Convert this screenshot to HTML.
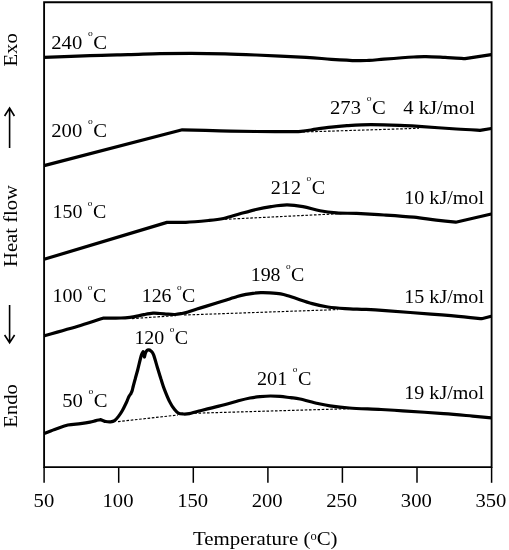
<!DOCTYPE html>
<html><head><meta charset="utf-8"><title>DSC</title>
<style>
html,body{margin:0;padding:0;background:#fff;}
svg{display:block;}
text{font-family:"Liberation Serif",serif;fill:#000;}
</style></head><body>
<svg width="509" height="550" viewBox="0 0 509 550">
<rect x="0" y="0" width="509" height="550" fill="#fff"/>
<g fill="none" stroke="#000" stroke-width="1.85">
<path d="M44.1,467.1 L44.1,2.2 L491.6,2.2 L491.6,467.1 Z"/>
<line x1="44.1" y1="467.1" x2="44.1" y2="482.8" stroke-width="1.5"/>
<line x1="118.7" y1="467.1" x2="118.7" y2="482.8" stroke-width="1.5"/>
<line x1="193.3" y1="467.1" x2="193.3" y2="482.8" stroke-width="1.5"/>
<line x1="267.9" y1="467.1" x2="267.9" y2="482.8" stroke-width="1.5"/>
<line x1="342.4" y1="467.1" x2="342.4" y2="482.8" stroke-width="1.5"/>
<line x1="417.0" y1="467.1" x2="417.0" y2="482.8" stroke-width="1.5"/>
<line x1="491.6" y1="467.1" x2="491.6" y2="482.8" stroke-width="1.5"/>
</g>
<g fill="none" stroke="#000" stroke-width="3.2" stroke-linejoin="round" stroke-linecap="butt">
<path d="M44.1,57.4 C51.8,57.1 76.0,56.1 90.0,55.6 C104.0,55.1 116.3,54.9 128.0,54.6 C139.7,54.3 149.5,53.8 160.0,53.6 C170.5,53.4 180.2,53.3 191.0,53.3 C201.8,53.3 214.2,53.5 225.0,53.8 C235.8,54.1 242.5,54.4 256.0,55.0 C269.5,55.6 293.4,56.6 306.0,57.3 C318.6,58.0 323.0,58.8 331.4,59.3 C339.8,59.8 350.3,60.4 356.6,60.6 C362.9,60.8 364.4,60.6 369.0,60.4 C373.6,60.2 376.6,59.8 384.0,59.2 C391.4,58.6 406.7,57.4 413.7,57.0 C420.7,56.6 420.8,56.5 426.0,56.6 C431.2,56.7 438.5,57.1 445.0,57.4 C451.5,57.7 461.7,58.4 465.0,58.6 L491.3,54.6"/>
<path d="M44.1,165.6 L182.3,129.8 C188.6,130.0 207.7,130.5 220.0,130.8 C232.3,131.1 246.0,131.4 256.0,131.5 C266.0,131.6 272.5,131.6 280.0,131.6 C287.5,131.6 295.0,131.7 301.0,131.3 C307.0,130.9 310.9,129.9 316.0,129.2 C321.1,128.5 326.2,127.8 331.4,127.2 C336.6,126.6 342.0,126.1 347.0,125.7 C352.0,125.3 355.4,125.0 361.6,124.8 C367.8,124.6 377.6,124.7 384.0,124.8 C390.4,124.9 394.2,125.1 400.0,125.4 C405.8,125.7 409.3,125.8 418.7,126.4 C428.1,127.0 446.2,128.3 456.4,129.0 C466.6,129.7 476.1,130.1 480.0,130.3 L491.3,128.5"/>
<path d="M44.1,259.3 L167,222.4 C170.1,222.4 178.9,222.6 185.8,222.3 C192.7,222.0 202.2,221.1 208.5,220.5 C214.8,219.9 218.2,219.6 223.5,218.5 C228.8,217.4 234.6,215.3 240.0,213.8 C245.4,212.3 250.8,210.7 256.0,209.5 C261.2,208.3 265.8,207.4 271.0,206.6 C276.2,205.8 281.7,204.9 287.0,204.9 C292.3,204.9 297.5,205.6 303.0,206.6 C308.5,207.6 314.4,209.6 320.0,210.7 C325.6,211.8 330.4,212.4 336.5,212.9 C342.6,213.4 348.7,213.1 356.6,213.4 C364.5,213.8 374.5,214.4 384.0,215.0 C393.5,215.6 405.0,216.3 413.7,217.2 C422.4,218.1 429.3,219.4 436.3,220.2 C443.3,221.0 452.5,221.9 455.7,222.2 L491.3,214"/>
<path d="M44.1,335.8 C50.2,334.1 70.7,328.4 80.5,325.5 C90.3,322.6 99.2,319.4 103.0,318.2 C104.5,318.2 109.0,318.2 112.0,318.2 C115.0,318.2 118.0,318.1 121.0,318.0 C124.0,317.9 127.3,317.6 130.0,317.3 C132.7,317.0 134.7,316.6 137.0,316.1 C139.3,315.7 141.3,315.1 144.0,314.6 C146.7,314.1 150.3,313.4 153.0,313.2 C155.7,313.0 157.7,313.4 160.0,313.5 C162.3,313.6 164.5,313.9 167.0,314.1 C169.5,314.3 172.5,314.6 175.0,314.5 C177.5,314.4 179.8,313.9 182.0,313.5 C184.2,313.1 185.5,312.8 188.0,312.0 C190.5,311.2 194.1,309.9 197.0,309.0 C199.9,308.1 201.6,307.6 205.7,306.4 C209.8,305.1 216.2,303.1 221.4,301.5 C226.7,299.9 233.1,297.7 237.2,296.5 C241.3,295.3 243.4,294.9 246.0,294.4 C248.6,293.9 250.4,293.6 252.9,293.3 C255.4,293.0 257.9,292.8 260.8,292.7 C263.7,292.6 266.7,292.7 270.0,292.9 C273.3,293.1 277.7,293.4 280.7,293.9 C283.7,294.4 285.4,295.0 288.0,295.8 C290.6,296.6 292.4,297.3 296.4,298.6 C300.4,299.9 306.9,302.2 312.2,303.6 C317.4,305.0 322.4,306.2 327.9,307.0 C333.4,307.8 338.8,308.2 345.0,308.6 C351.2,309.0 358.3,309.1 365.0,309.4 C371.7,309.7 374.4,309.8 385.4,310.6 C396.4,311.4 417.9,313.1 431.0,314.1 C444.1,315.1 455.6,316.0 464.0,316.8 C472.4,317.6 478.7,318.4 481.6,318.7 L491.3,316.2"/>
<path d="M44.1,433.4 C46.1,432.7 52.0,430.4 56.0,429.0 C60.0,427.6 63.8,425.9 67.9,425.0 C72.0,424.1 76.8,424.1 80.5,423.6 C84.2,423.1 87.4,422.6 90.0,422.1 C92.6,421.6 94.1,421.0 95.9,420.6 C97.7,420.2 100.0,419.8 100.8,419.6 C101.2,419.8 102.5,420.4 103.3,420.7 C104.1,421.0 104.5,421.3 105.7,421.5 C106.9,421.7 109.1,421.9 110.6,421.8 C112.1,421.7 113.3,421.5 114.6,420.6 C115.9,419.7 117.2,418.1 118.5,416.4 C119.8,414.7 121.1,412.8 122.4,410.5 C123.7,408.2 125.2,405.0 126.3,402.7 C127.4,400.4 128.0,398.3 128.8,396.8 C129.6,395.3 130.6,394.1 131.0,393.5 C131.2,393.0 131.8,391.8 132.2,390.5 C132.6,389.2 132.8,387.9 133.3,386.0 C133.8,384.1 134.4,381.8 135.2,379.0 C135.9,376.2 136.8,373.4 137.8,369.5 C138.8,365.6 140.3,358.7 141.2,355.7 C142.1,352.7 142.9,352.3 143.2,351.6 L144.4,357 C144.6,356.3 145.1,354.1 145.5,353.0 C145.9,351.9 146.3,351.2 146.8,350.7 C147.3,350.2 147.9,349.9 148.6,349.9 C149.3,349.9 150.0,350.1 150.8,350.9 C151.6,351.7 152.4,351.9 153.5,354.7 C154.6,357.5 156.2,363.5 157.4,367.5 C158.6,371.5 159.7,374.9 160.8,378.5 C162.0,382.1 162.8,385.2 164.3,389.1 C165.8,393.0 167.9,398.2 169.6,401.6 C171.3,405.0 173.1,407.7 174.6,409.6 C176.1,411.5 177.0,412.5 178.5,413.2 C180.0,413.9 181.6,413.9 183.4,414.0 C185.2,414.1 186.7,414.1 189.3,413.6 C191.9,413.1 194.1,412.2 199.0,411.0 C203.9,409.8 212.2,407.8 218.8,406.1 C225.4,404.4 233.2,402.2 238.4,400.8 C243.6,399.4 246.4,398.7 250.0,398.0 C253.6,397.3 256.6,396.9 260.0,396.6 C263.4,396.3 267.2,396.0 270.5,396.0 C273.8,396.0 276.6,396.1 280.0,396.4 C283.4,396.7 287.3,397.3 290.6,397.7 C293.9,398.1 295.4,398.0 300.0,399.0 C304.6,400.0 313.0,402.4 318.0,403.5 C323.0,404.6 324.8,405.1 330.0,405.8 C335.2,406.6 340.8,407.4 349.3,408.0 C357.8,408.6 372.1,409.0 381.0,409.5 C389.9,410.0 392.2,410.1 402.7,410.8 C413.1,411.5 432.1,412.7 443.7,413.6 C455.3,414.5 464.6,415.4 472.5,416.1 C480.4,416.8 488.2,417.6 491.3,417.9"/>
</g>
<g fill="none" stroke="#000" stroke-width="1.15" stroke-dasharray="2.6,1.65">
<line x1="302.5" y1="132" x2="419" y2="128.3"/>
<line x1="224.8" y1="219.3" x2="341.5" y2="213.6"/>
<line x1="132" y1="318.6" x2="176" y2="315.6"/>
<line x1="184" y1="315" x2="337.7" y2="309.6"/>
<line x1="118" y1="421.6" x2="178" y2="415"/>
<line x1="190" y1="413.4" x2="349" y2="408.7"/>
</g>
<text transform="translate(51.3,49) scale(1.07,1)" font-size="19.3" text-anchor="start">240 <tspan font-size="9" dy="-12.6" dx="0.5">o</tspan><tspan dy="12.6" dx="0.4">C</tspan></text>
<text transform="translate(51.3,136.5) scale(1.07,1)" font-size="19.3" text-anchor="start">200 <tspan font-size="9" dy="-12.6" dx="0.5">o</tspan><tspan dy="12.6" dx="0.4">C</tspan></text>
<text transform="translate(52.5,218.2) scale(1.032,1)" font-size="19.3" text-anchor="start">150 <tspan font-size="9" dy="-12.6" dx="0.5">o</tspan><tspan dy="12.6" dx="0.4">C</tspan></text>
<text transform="translate(52.5,302.4) scale(1.032,1)" font-size="19.3" text-anchor="start">100 <tspan font-size="9" dy="-12.6" dx="0.5">o</tspan><tspan dy="12.6" dx="0.4">C</tspan></text>
<text transform="translate(141.7,302.4) scale(1.032,1)" font-size="19.3" text-anchor="start">126 <tspan font-size="9" dy="-12.6" dx="0.5">o</tspan><tspan dy="12.6" dx="0.4">C</tspan></text>
<text transform="translate(134.4,344.4) scale(1.032,1)" font-size="19.3" text-anchor="start">120 <tspan font-size="9" dy="-12.6" dx="0.5">o</tspan><tspan dy="12.6" dx="0.4">C</tspan></text>
<text transform="translate(62.2,406.8) scale(1.07,1)" font-size="19.3" text-anchor="start">50 <tspan font-size="9" dy="-12.6" dx="0.5">o</tspan><tspan dy="12.6" dx="0.4">C</tspan></text>
<text transform="translate(330,114) scale(1.07,1)" font-size="19.3" text-anchor="start">273 <tspan font-size="9" dy="-12.6" dx="0.5">o</tspan><tspan dy="12.6" dx="0.4">C</tspan></text>
<text transform="translate(270.8,193.8) scale(1.045,1)" font-size="19.3" text-anchor="start">212 <tspan font-size="9" dy="-12.6" dx="0.5">o</tspan><tspan dy="12.6" dx="0.4">C</tspan></text>
<text transform="translate(250.7,281.4) scale(1.032,1)" font-size="19.3" text-anchor="start">198 <tspan font-size="9" dy="-12.6" dx="0.5">o</tspan><tspan dy="12.6" dx="0.4">C</tspan></text>
<text transform="translate(257,384.5) scale(1.045,1)" font-size="19.3" text-anchor="start">201 <tspan font-size="9" dy="-12.6" dx="0.5">o</tspan><tspan dy="12.6" dx="0.4">C</tspan></text>
<text transform="translate(403.3,113.7) scale(1.07,1)" font-size="19.3" text-anchor="start">4 kJ/mol</text>
<text transform="translate(404.3,203.9) scale(1.04,1)" font-size="19.3" text-anchor="start">10 kJ/mol</text>
<text transform="translate(404.3,302.9) scale(1.04,1)" font-size="19.3" text-anchor="start">15 kJ/mol</text>
<text transform="translate(404.3,399.2) scale(1.04,1)" font-size="19.3" text-anchor="start">19 kJ/mol</text>
<text transform="translate(43.9,506.5) scale(1.07,1)" font-size="19.3" text-anchor="middle">50</text>
<text transform="translate(118.0,506.5) scale(1.07,1)" font-size="19.3" text-anchor="middle">100</text>
<text transform="translate(192.6,506.5) scale(1.07,1)" font-size="19.3" text-anchor="middle">150</text>
<text transform="translate(267.2,506.5) scale(1.07,1)" font-size="19.3" text-anchor="middle">200</text>
<text transform="translate(341.7,506.5) scale(1.07,1)" font-size="19.3" text-anchor="middle">250</text>
<text transform="translate(416.3,506.5) scale(1.07,1)" font-size="19.3" text-anchor="middle">300</text>
<text transform="translate(490.9,506.5) scale(1.07,1)" font-size="19.3" text-anchor="middle">350</text>
<text transform="translate(193,544.7) scale(1.083,1)" font-size="19.3">Temperature (<tspan font-size="11.5" dy="-4.7">o</tspan><tspan dy="4.7">C)</tspan></text>
<text transform="translate(17.3,49.9) rotate(-90) scale(1.07,1)" font-size="19.3" text-anchor="middle">Exo</text>
<text transform="translate(17.3,226) rotate(-90) scale(1.07,1)" font-size="19.3" text-anchor="middle">Heat flow</text>
<text transform="translate(17.3,405.9) rotate(-90) scale(1.07,1)" font-size="19.3" text-anchor="middle">Endo</text>
<g fill="none" stroke="#000" stroke-width="1.6">
<path d="M9.6,148 L9.6,108.5 M4.6,116 L9.6,108 L14.4,116"/>
<path d="M9.6,305 L9.6,342.2 M4.6,335 L9.6,342.8 L14.6,335"/>
</g>
</svg>
</body></html>
